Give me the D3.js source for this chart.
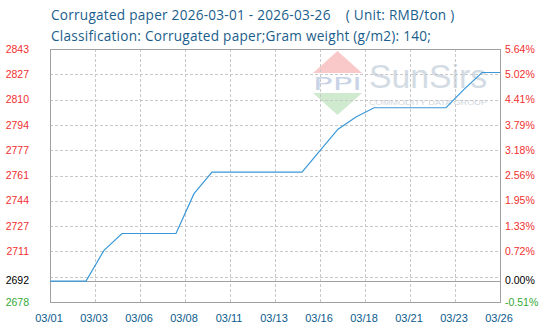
<!DOCTYPE html>
<html>
<head>
<meta charset="utf-8">
<title>Corrugated paper</title>
<script src="https://cdn.jsdelivr.net/npm/d3@7"></script>
<style>
	body { margin: 0; background: #fff; }
	svg { display: block; }
	text { font-family: "Liberation Sans", Arial, sans-serif; }
</style>
</head>
<body>
<div id="chart"></div>
<script>
'use strict';

// Daily prices, RMB/ton
var dates = ['2026-03-01', '2026-03-02', '2026-03-03', '2026-03-04', '2026-03-05',
	'2026-03-06', '2026-03-07', '2026-03-08', '2026-03-09', '2026-03-10',
	'2026-03-11', '2026-03-12', '2026-03-13', '2026-03-14', '2026-03-15',
	'2026-03-16', '2026-03-17', '2026-03-18', '2026-03-19', '2026-03-20',
	'2026-03-21', '2026-03-22', '2026-03-23', '2026-03-24', '2026-03-25',
	'2026-03-26'];
var prices = [2692, 2692, 2692, 2712, 2723,
	2723, 2723, 2723, 2749, 2763,
	2763, 2763, 2763, 2763, 2763,
	2777, 2791, 2799, 2805, 2805,
	2805, 2805, 2805, 2817, 2828,
	2828];

// Axis settings
var y_min = 2678, y_max = 2843, y_base = 2692;
var y_tick_values = [2843, 2826.5, 2810, 2793.5, 2777, 2760.5, 2744, 2727.5, 2711, 2692, 2678];
var y_tick_labels = ['2843', '2827', '2810', '2794', '2777', '2761', '2744', '2727', '2711', '2692', '2678'];
var pct_tick_labels = ['5.64%', '5.02%', '4.41%', '3.79%', '3.18%', '2.56%', '1.95%', '1.33%', '0.72%', '0.00%', '-0.51%'];
var y_grid_values = [2694.5, 2711, 2727.5, 2744, 2760.5, 2777, 2793.5, 2810, 2826.5];
var x_tick_labels = ['03/01', '03/03', '03/06', '03/08', '03/11', '03/13', '03/16', '03/18', '03/21', '03/23', '03/26'];

var title_lines = [
	'Corrugated paper 2026-03-01 - 2026-03-26    ( Unit: RMB/ton )',
	'Classification: Corrugated paper;Gram weight (g/m2): 140;'
];

var width = 550, height = 332;
var plot = { left: 50, right: 500, top: 49, bottom: 302 };

var svg = d3.select('#chart').append('svg')
	.attr('width', width)
	.attr('height', height);

var parse = d3.timeParse('%Y-%m-%d');
var x_scale = d3.scaleTime()
	.domain([parse(dates[0]), parse(dates[dates.length - 1])])
	.range([plot.left, plot.right]);
var x_ticks = d3.scalePoint()
	.domain(x_tick_labels)
	.range([plot.left, plot.right]);
var y_scale = d3.scaleLinear()
	.domain([y_min, y_max])
	.range([plot.bottom, plot.top]);


//===============================================================
// Title
//===============================================================

svg.selectAll('text.title')
	.data(title_lines)
	.enter().append('text')
	.attr('class', 'title')
	.attr('x', 51)
	.attr('y', function(d, i) { return 20 + i * 21; })
	.style('white-space', 'pre')
	.style('font-family', '"Open Sans", "Noto Sans", sans-serif')
	.style('font-size', '13.6px')
	.style('letter-spacing', '0.25px')
	.attr('fill', '#1b5e8c')
	.text(function(d) { return d; });


//===============================================================
// Watermark behind the plot
//===============================================================

var mark = svg.append('g').attr('class', 'watermark');
mark.append('path')
	.attr('d', 'M313,73L337.5,51L362,73Z')
	.attr('fill', '#f9c8c8');
mark.append('path')
	.attr('d', 'M313,93L362,93L337.5,115Z')
	.attr('fill', '#cfeace');
mark.append('text')
	.attr('x', 313).attr('y', 90)
	.attr('textLength', 49)
	.attr('lengthAdjust', 'spacingAndGlyphs')
	.style('font-family', '"DejaVu Sans", sans-serif')
	.style('font-size', '18px')
	.attr('fill', '#c9d3e6')
	.text('PPI');
mark.append('text')
	.attr('x', 369).attr('y', 88)
	.attr('textLength', 118)
	.attr('lengthAdjust', 'spacingAndGlyphs')
	.style('font-size', '34px')
	.attr('fill', '#d3dce4')
	.text('SunSirs');
mark.append('text')
	.attr('x', 369).attr('y', 105)
	.attr('textLength', 118)
	.attr('lengthAdjust', 'spacingAndGlyphs')
	.style('font-size', '8px')
	.attr('fill', '#d0d7de')
	.text('COMMODITY DATA GROUP');


//===============================================================
// Grid, borders and base line
//===============================================================

svg.append('g')
	.selectAll('line')
	.data(y_grid_values)
	.enter().append('line')
	.attr('x1', plot.left).attr('x2', plot.right)
	.attr('y1', function(d) { return Math.round(y_scale(d)) + 0.5; })
	.attr('y2', function(d) { return Math.round(y_scale(d)) + 0.5; })
	.attr('stroke', '#c8c8c8')
	.attr('stroke-dasharray', '3,2');

svg.append('g')
	.selectAll('line')
	.data(x_tick_labels.slice(1, -1))
	.enter().append('line')
	.attr('x1', function(d) { return Math.round(x_ticks(d)) + 0.5; })
	.attr('x2', function(d) { return Math.round(x_ticks(d)) + 0.5; })
	.attr('y1', plot.top).attr('y2', plot.bottom)
	.attr('stroke', '#c8c8c8')
	.attr('stroke-dasharray', '3,2');

svg.append('rect')
	.attr('x', plot.left + 0.5).attr('y', plot.top + 0.5)
	.attr('width', plot.right - plot.left).attr('height', plot.bottom - plot.top)
	.attr('fill', 'none')
	.attr('stroke', '#a0a0a0');

svg.append('line')
	.attr('x1', plot.left).attr('x2', plot.right)
	.attr('y1', Math.round(y_scale(y_base)) + 0.5)
	.attr('y2', Math.round(y_scale(y_base)) + 0.5)
	.attr('stroke', '#a0a0a0');


//===============================================================
// Price line
//===============================================================

var line = d3.line()
	.x(function(d, i) { return x_scale(parse(dates[i])); })
	.y(function(d) { return y_scale(d) + 0.5; });

svg.append('path')
	.datum(prices)
	.attr('d', line)
	.attr('fill', 'none')
	.attr('stroke', '#3a98d8')
	.attr('stroke-width', 1.2);


//===============================================================
// Axis labels
//===============================================================

function label_colour(v) {
	if (v > y_base) return '#f03030';
	if (v < y_base) return '#33aa33';
	return '#000000';
}

svg.append('g')
	.selectAll('text')
	.data(y_tick_values)
	.enter().append('text')
	.attr('x', 29)
	.attr('y', function(d) { return y_scale(d); })
	.attr('dy', '0.35em')
	.attr('text-anchor', 'end')
	.style('font-size', '10.5px')
	.attr('fill', label_colour)
	.text(function(d, i) { return y_tick_labels[i]; });

svg.append('g')
	.selectAll('text')
	.data(y_tick_values)
	.enter().append('text')
	.attr('x', 505)
	.attr('y', function(d) { return y_scale(d); })
	.attr('dy', '0.35em')
	.style('font-size', '10.5px')
	.attr('fill', label_colour)
	.text(function(d, i) { return pct_tick_labels[i]; });

svg.append('g')
	.selectAll('text')
	.data(x_tick_labels)
	.enter().append('text')
	.attr('x', function(d) { return x_ticks(d) - 1; })
	.attr('y', 322)
	.attr('text-anchor', 'middle')
	.style('font-size', '11px')
	.attr('fill', '#0b5a8c')
	.text(function(d) { return d; });
</script>
</body>
</html>
